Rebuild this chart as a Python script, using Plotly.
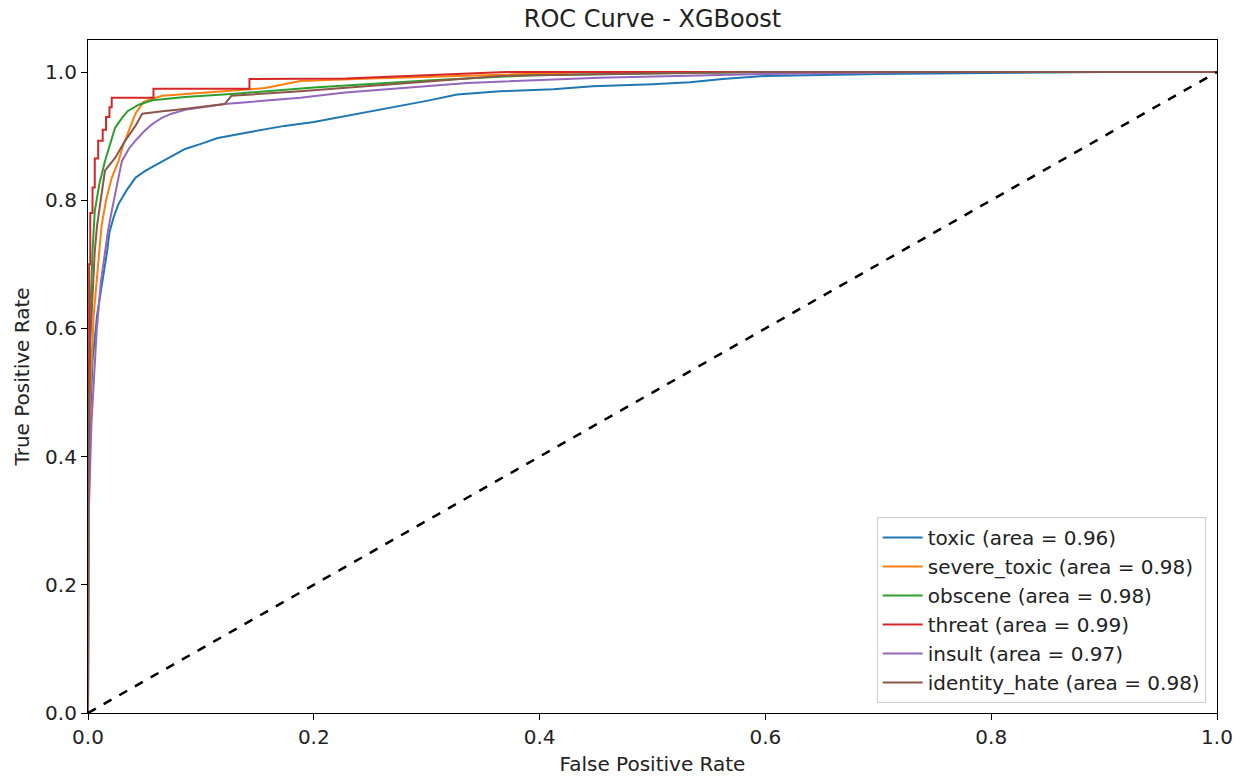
import plotly.graph_objects as go

# ROC curve points (false positive rate, true positive rate) per label
labels = ["toxic", "severe_toxic", "obscene", "threat", "insult", "identity_hate"]
auc_values = [0.96, 0.98, 0.98, 0.99, 0.97, 0.98]
colors = ["#1f77b4", "#ff7f0e", "#2ca02c", "#d62728", "#9467bd", "#8c564b"]

fpr_toxic = [0, 0.0005, 0.002, 0.004, 0.008, 0.013, 0.017, 0.019, 0.023, 0.027, 0.034, 0.042, 0.050,
             0.057, 0.071, 0.086, 0.100, 0.115, 0.145, 0.174, 0.200, 0.228, 0.260, 0.300, 0.327, 0.365,
             0.412, 0.447, 0.500, 0.533, 0.562, 0.601, 0.700, 0.800, 0.900, 1.0]
tpr_toxic = [0, 0.30, 0.46, 0.55, 0.62, 0.674, 0.721, 0.75, 0.775, 0.794, 0.815, 0.835, 0.845,
             0.852, 0.866, 0.880, 0.888, 0.897, 0.907, 0.916, 0.922, 0.931, 0.942, 0.955, 0.965, 0.970,
             0.973, 0.978, 0.981, 0.984, 0.989, 0.994, 0.997, 0.999, 1.0, 1.0]

fpr_severe = [0, 0.0005, 0.002, 0.005, 0.009, 0.012, 0.016, 0.021, 0.027, 0.031, 0.035, 0.042,
              0.049, 0.056, 0.066, 0.086, 0.120, 0.157, 0.188, 0.250, 0.350, 0.450, 1.0]
tpr_severe = [0, 0.40, 0.50, 0.62, 0.70, 0.76, 0.80, 0.835, 0.861, 0.885, 0.903, 0.935,
              0.953, 0.958, 0.963, 0.966, 0.970, 0.975, 0.986, 0.990, 0.995, 1.0, 1.0]

fpr_obscene = [0, 0.0005, 0.002, 0.004, 0.006, 0.010, 0.015, 0.020, 0.024, 0.030, 0.035, 0.045, 0.057,
               0.086, 0.130, 0.200, 0.300, 0.394, 0.500, 0.600, 1.0]
tpr_obscene = [0, 0.45, 0.62, 0.72, 0.783, 0.825, 0.861, 0.89, 0.913, 0.928, 0.939, 0.949, 0.956,
               0.961, 0.966, 0.976, 0.987, 0.995, 0.998, 1.0, 1.0]

fpr_threat = [0, 0, 0.001, 0.001, 0.002, 0.002, 0.004, 0.004, 0.006, 0.006, 0.009, 0.009, 0.013, 0.013,
              0.016, 0.016, 0.019, 0.019, 0.021, 0.021, 0.058, 0.058, 0.143, 0.143, 0.228, 0.370, 1.0]
tpr_threat = [0, 0.55, 0.55, 0.70, 0.70, 0.78, 0.78, 0.82, 0.82, 0.865, 0.865, 0.893, 0.893, 0.91,
              0.91, 0.93, 0.93, 0.945, 0.945, 0.96, 0.96, 0.974, 0.974, 0.989, 0.990, 1.0, 1.0]

fpr_insult = [0, 0.0005, 0.003, 0.005, 0.0077, 0.0115, 0.0177, 0.021, 0.025, 0.030, 0.036,
              0.042, 0.050, 0.057, 0.065, 0.074, 0.086, 0.121, 0.188, 0.228, 0.336, 0.453, 0.600, 0.750, 1.0]
tpr_insult = [0, 0.30, 0.45, 0.52, 0.597, 0.674, 0.752, 0.783, 0.82, 0.861, 0.88,
              0.893, 0.908, 0.919, 0.928, 0.935, 0.941, 0.950, 0.960, 0.968, 0.983, 0.991, 0.997, 1.0, 1.0]

fpr_identity = [0, 0.0005, 0.002, 0.004, 0.006, 0.008, 0.011, 0.015, 0.024, 0.033, 0.042, 0.048, 0.066,
                0.083, 0.121, 0.127, 0.188, 0.365, 0.500, 0.600, 1.0]
tpr_identity = [0, 0.40, 0.58, 0.66, 0.72, 0.76, 0.80, 0.846, 0.866, 0.893, 0.916, 0.935, 0.939,
                0.942, 0.950, 0.963, 0.970, 0.994, 0.998, 1.0, 1.0]

fpr_all = [fpr_toxic, fpr_severe, fpr_obscene, fpr_threat, fpr_insult, fpr_identity]
tpr_all = [tpr_toxic, tpr_severe, tpr_obscene, tpr_threat, tpr_insult, tpr_identity]

chance_x = [0, 1]
chance_y = [0, 1]

FONT = "DejaVu Sans"

fig = go.Figure()
for name, auc, color, fx, ty in zip(labels, auc_values, colors, fpr_all, tpr_all):
    fig.add_trace(go.Scatter(
        x=fx, y=ty, mode="lines",
        name=f"{name} (area = {auc:.2f})",
        line=dict(color=color, width=2),
    ))

fig.add_trace(go.Scatter(
    x=chance_x, y=chance_y, mode="lines", showlegend=False,
    line=dict(color="black", width=2.5, dash="dash"),
))

axis_common = dict(
    showgrid=False, zeroline=False, showline=True, linecolor="black", linewidth=1.2,
    mirror=True, ticks="outside", ticklen=6, tickwidth=1.2, tickcolor="black",
    tickfont=dict(family=FONT, size=20, color="#222222"), tickformat=".1f",
    automargin=False,
)

fig.update_layout(
    width=1245, height=778,
    margin=dict(l=88, r=28, t=40, b=65),
    paper_bgcolor="white", plot_bgcolor="white",
    font=dict(family=FONT, size=20, color="#222222"),
    title=dict(text="ROC Curve - XGBoost", x=0.5, xref="paper", xanchor="center",
               y=1 - 19 / 778, yref="container", yanchor="middle",
               font=dict(family=FONT, size=24, color="#222222")),
    xaxis=dict(range=[0, 1], tickvals=[0, 0.2, 0.4, 0.6, 0.8, 1.0],
               title=dict(text="False Positive Rate", standoff=8,
                          font=dict(family=FONT, size=20)), **axis_common),
    yaxis=dict(range=[0, 1.05], tickvals=[0, 0.2, 0.4, 0.6, 0.8, 1.0],
               title=dict(text="True Positive Rate", standoff=10,
                          font=dict(family=FONT, size=20)), **axis_common),
    legend=dict(x=0.990, y=0.015, xanchor="right", yanchor="bottom",
                bgcolor="rgba(255,255,255,0.8)", bordercolor="#cccccc", borderwidth=1,
                font=dict(family=FONT, size=20, color="#222222"),
                itemwidth=40, tracegroupgap=0),
    showlegend=True,
)

fig.write_html("out.html")
